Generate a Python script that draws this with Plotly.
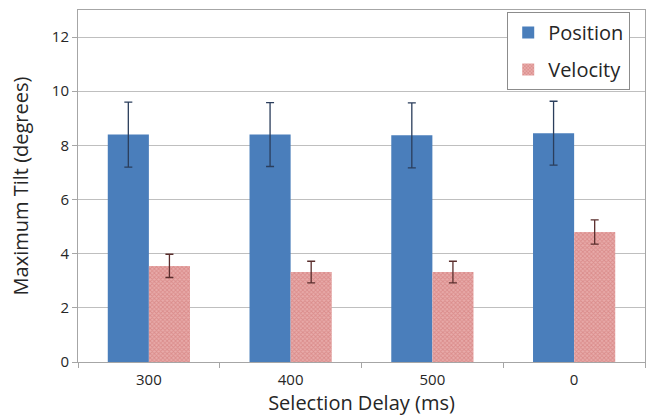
import plotly.graph_objects as go

categories = ["300", "400", "500", "0"]
position = [8.4, 8.4, 8.37, 8.45]
position_err = [1.2, 1.18, 1.2, 1.18]
velocity = [3.55, 3.32, 3.32, 4.8]
velocity_err = [0.43, 0.4, 0.4, 0.45]
y_ticks = [0, 2, 4, 6, 8, 10, 12]

FONT = "Open Sans, sans-serif"

fig = go.Figure()
fig.add_trace(go.Bar(
    name="Position", x=categories, y=position, legendgroup="a",
    marker=dict(color="#4A7EBB", line=dict(width=0)),
    error_y=dict(type="data", array=position_err, color="#2B3E5C", thickness=1.3, width=4),
))
fig.add_trace(go.Bar(
    name="Velocity", x=categories, y=velocity, legendgroup="b",
    marker=dict(color="#DA9190", line=dict(width=0),
                pattern=dict(shape="x", size=3, solidity=0.5, fgcolor="#CC6E6C", bgcolor="#E8ABAA")),
    error_y=dict(type="data", array=velocity_err, color="#5A2E2D", thickness=1.3, width=4),
))

fig.update_layout(
    width=649, height=420,
    margin=dict(l=78, r=4, t=10, b=58),
    paper_bgcolor="white", plot_bgcolor="white",
    barmode="group", bargap=0.42, bargroupgap=0,
    font=dict(family=FONT, color="#262626"),
    legend=dict(x=0.757, y=0.994, xanchor="left", yanchor="top",
                bgcolor="white", bordercolor="#8C8C8C", borderwidth=1,
                font=dict(size=20, family=FONT, color="#262626"),
                tracegroupgap=8, itemwidth=30),
    showlegend=True,
)
fig.update_xaxes(
    title=dict(text="Selection Delay (ms)", font=dict(size=20, family=FONT), standoff=6),
    tickfont=dict(size=15, family=FONT, color="#262626"),
    ticklabelstandoff=4,
    automargin=False,
    showline=True, linecolor="#A6A6A6", linewidth=1, mirror=True,
    ticks="outside", tickson="boundaries", ticklen=5, tickcolor="#A6A6A6",
)
fig.update_yaxes(
    title=dict(text="Maximum Tilt (degrees)", font=dict(size=20, family=FONT), standoff=17),
    tickfont=dict(size=15, family=FONT, color="#262626"),
    automargin=False,
    range=[0, 13], tickvals=y_ticks,
    showgrid=True, gridcolor="#BFBFBF", gridwidth=1,
    showline=True, linecolor="#A6A6A6", linewidth=1, mirror=True,
    ticks="outside", ticklen=5, tickcolor="#A6A6A6", zeroline=False,
)

post = (
    "document.body.style.margin='0';"
    "document.body.style.overflow='hidden';"
    "var gd=document.getElementById('{plot_id}');"
    "Plotly.relayout(gd,{width:649,height:420});"
)
fig.write_html("out.html", post_script=post, config={"displayModeBar": False})
